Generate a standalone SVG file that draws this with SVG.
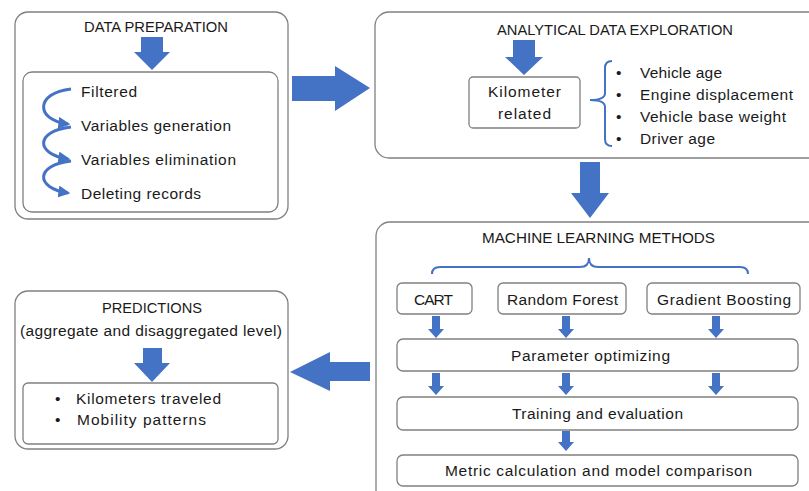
<svg xmlns="http://www.w3.org/2000/svg" width="809" height="491" viewBox="0 0 809 491">
<defs>
<style>
.box{fill:#fff;stroke:#808080;stroke-width:1.3}
.arr{fill:#4472C4}
.brace{fill:none;stroke:#4472C4;stroke-width:2}
.curve{fill:none;stroke:#4472C4;stroke-width:3}
text{font-family:"Liberation Sans",Arial,sans-serif;font-size:15.5px;fill:#1a1a1a}
.c{text-anchor:middle}
</style>
<marker id="ah" viewBox="0 0 10 10" refX="8" refY="5" markerWidth="4" markerHeight="4" orient="auto">
<path d="M0,0 L10,5 L0,10 z" fill="#4472C4"/>
</marker>
</defs>
<rect width="809" height="491" fill="#fff"/>

<g id="data-preparation">
<rect class="box" x="15" y="12" width="273" height="207" rx="13"/>
<text x="84" y="32" textLength="144" lengthAdjust="spacingAndGlyphs">DATA PREPARATION</text>
<rect class="box" x="23" y="72" width="255" height="140" rx="9"/>
<text x="81" y="97" textLength="56">Filtered</text>
<text x="81" y="131" textLength="150">Variables generation</text>
<text x="81" y="165" textLength="155">Variables elimination</text>
<text x="81" y="199" textLength="120">Deleting records</text>
</g>

<g id="analytical-data-exploration">
<rect class="box" x="375" y="12" width="450" height="146" rx="14"/>
<text x="497" y="35" textLength="236" lengthAdjust="spacingAndGlyphs">ANALYTICAL DATA EXPLORATION</text>
<g id="kilometer-related">
<rect class="box" x="469" y="77" width="111" height="51" rx="4"/>
<text x="488" y="97" textLength="73">Kilometer</text>
<text x="498" y="119" textLength="53">related</text>
</g>
<path class="brace" d="M612,61 Q605,61 605,68 L605,93 Q605,100 590,100 Q605,100 605,107 L605,139 Q605,146 612,146"/>
<text x="616" y="78">•</text>
<text x="640" y="78" textLength="82">Vehicle age</text>
<text x="616" y="100">•</text>
<text x="640" y="100" textLength="153">Engine displacement</text>
<text x="616" y="122">•</text>
<text x="640" y="122" textLength="146">Vehicle base weight</text>
<text x="616" y="144">•</text>
<text x="640" y="144" textLength="75">Driver age</text>
</g>

<g id="machine-learning-methods">
<rect class="box" x="376" y="222" width="450" height="290" rx="14"/>
<text x="482" y="243" textLength="233" lengthAdjust="spacingAndGlyphs">MACHINE LEARNING METHODS</text>
<path class="brace" d="M432,274 Q432,267 440,267 L580,267 Q589,267 589,258 Q589,267 598,267 L740,267 Q748,267 748,274"/>
<g id="cart"><rect class="box" x="397" y="283" width="75" height="31" rx="5"/><text x="414" y="305" textLength="39">CART</text></g>
<g id="random-forest"><rect class="box" x="498" y="283" width="128" height="31" rx="5"/><text x="507" y="305" textLength="111">Random Forest</text></g>
<g id="gradient-boosting"><rect class="box" x="647" y="283" width="153" height="31" rx="5"/><text x="657" y="305" textLength="134">Gradient Boosting</text></g>
<g id="parameter-optimizing"><rect class="box" x="397" y="339" width="401" height="32" rx="6"/><text x="511" y="361" textLength="159">Parameter optimizing</text></g>
<g id="training-evaluation"><rect class="box" x="397" y="397" width="401" height="33" rx="6"/><text x="512" y="419" textLength="171">Training and evaluation</text></g>
<g id="metric-comparison"><rect class="box" x="397" y="455" width="401" height="31" rx="6"/><text x="445" y="476" textLength="307">Metric calculation and model comparison</text></g>
</g>

<g id="predictions">
<rect class="box" x="15" y="291" width="273" height="158" rx="13"/>
<text x="102" y="313" textLength="100" lengthAdjust="spacingAndGlyphs">PREDICTIONS</text>
<text x="20" y="336" textLength="262">(aggregate and disaggregated level)</text>
<rect class="box" x="23" y="383" width="255" height="61" rx="5"/>
<text x="55" y="404">•</text>
<text x="76" y="404" textLength="145">Kilometers traveled</text>
<text x="55" y="425">•</text>
<text x="77" y="425" textLength="129">Mobility patterns</text>
</g>

<g id="connectors">
<path class="curve" marker-end="url(#ah)" d="M71,89 C35,93 35,120 68,124"/>
<path class="curve" marker-end="url(#ah)" d="M71,127 C35,131 35,154 68,159"/>
<path class="curve" marker-end="url(#ah)" d="M71,161 C35,165 35,188 68,193"/>
<polygon class="arr" points="141,37 163,37 163,52 170,52 152,70 134,52 141,52"/>
<polygon class="arr" points="513,40 535,40 535,57 543,57 524,75 505,57 513,57"/>
<polygon class="arr" points="292,76 335,76 335,66 370,88 335,111 335,101 292,101"/>
<polygon class="arr" points="580,162 600,162 600,193 609,193 590,218 571,193 580,193"/>
<polygon class="arr" points="370,362 330,362 330,352 290,372 330,391 330,381 370,381"/>
<polygon class="arr" points="143,348 162,348 162,363 170,363 152,382 134,363 143,363"/>
<polygon class="arr" points="432,316 440,316 440,329 444,329 436,338 428,329 432,329"/>
<polygon class="arr" points="562,316 570,316 570,329 574,329 566,338 558,329 562,329"/>
<polygon class="arr" points="712,316 720,316 720,329 724,329 716,338 708,329 712,329"/>
<polygon class="arr" points="432,373 440,373 440,386 444,386 436,395 428,386 432,386"/>
<polygon class="arr" points="562,373 570,373 570,386 574,386 566,395 558,386 562,386"/>
<polygon class="arr" points="712,373 720,373 720,386 724,386 716,395 708,386 712,386"/>
<polygon class="arr" points="562,431 570,431 570,442 574,442 566,451 558,442 562,442"/>
</g>
</svg>
